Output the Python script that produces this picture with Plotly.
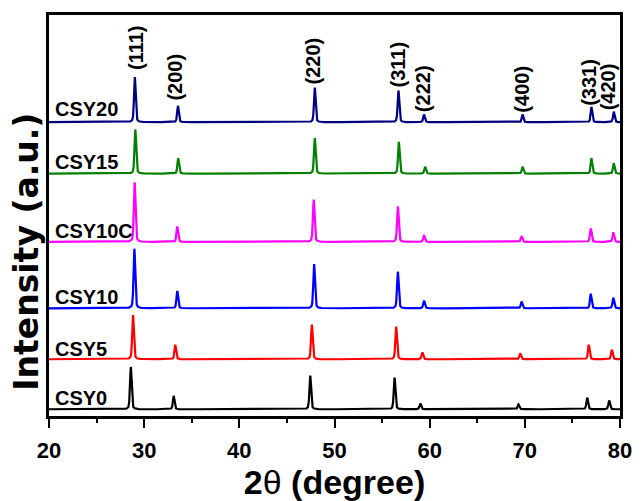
import numpy as np
import plotly.graph_objects as go

# ---------------- data ----------------
samples = ["CSY0", "CSY5", "CSY10", "CSY10C", "CSY15", "CSY20"]
colors = ["#000000", "#ff0000", "#0000ff", "#ff00ff", "#008000", "#000080"]
hkl = ["(111)", "(200)", "(220)", "(311)", "(222)", "(400)", "(331)", "(420)"]

# peak positions (2theta, degree) for each sample, in hkl order
pos_CSY0 = [28.60, 33.10, 47.45, 56.31, 59.02, 69.33, 76.55, 78.86]
pos_CSY5 = [28.83, 33.27, 47.62, 56.48, 59.24, 69.52, 76.72, 79.14]
pos_CSY10 = [28.97, 33.48, 47.86, 56.66, 59.41, 69.66, 76.93, 79.30]
pos_CSY10C = [29.00, 33.48, 47.82, 56.66, 59.41, 69.66, 76.93, 79.30]
pos_CSY15 = [29.07, 33.58, 47.93, 56.76, 59.52, 69.76, 77.00, 79.34]
pos_CSY20 = [29.02, 33.55, 47.93, 56.72, 59.41, 69.76, 77.00, 79.35]

# peak heights (a.u.) in hkl order
hgt_CSY0 = [44, 14, 35, 33, 6, 5, 12, 9]
hgt_CSY5 = [46, 15, 36, 34, 7, 6, 15, 10]
hgt_CSY10 = [62, 18, 46, 38, 8, 7, 15, 11]
hgt_CSY10C = [62, 16, 44, 37, 7, 6, 14, 10]
hgt_CSY15 = [46, 16, 37, 33, 7, 7, 16, 11]
hgt_CSY20 = [47, 17, 36, 33, 8, 8, 16, 11]

# vertical offsets (baselines) of the stacked patterns (a.u.)
offsets = [7, 59, 112, 181, 252, 305.5]

fwhm = 0.2  # peak width (degree)
x_ticks = [20, 30, 40, 50, 60, 70, 80]

positions = [pos_CSY0, pos_CSY5, pos_CSY10, pos_CSY10C, pos_CSY15, pos_CSY20]
heights = [hgt_CSY0, hgt_CSY5, hgt_CSY10, hgt_CSY10C, hgt_CSY15, hgt_CSY20]

# ---------------- build profiles ----------------
two_theta = np.arange(20.0, 80.0001, 0.01)


def profile(pos, hgt, base):
    y = np.full_like(two_theta, float(base))
    g = fwhm / 2.0
    sig = fwhm / 2.3548
    for p, h in zip(pos, hgt):
        lor = 1.0 / (1.0 + ((two_theta - p) / g) ** 2)
        gau = np.exp(-0.5 * ((two_theta - p) / sig) ** 2)
        y += h * (0.6 * gau + 0.4 * lor)
    return y


fig = go.Figure()
for name, col, pos, hgt, off in zip(samples, colors, positions, heights, offsets):
    fig.add_trace(go.Scatter(x=two_theta, y=profile(pos, hgt, off), mode="lines",
                             line=dict(color=col, width=2.2), name=name,
                             hoverinfo="skip", showlegend=False))

FONT = "Liberation Sans, Arial, sans-serif"

# sample labels
label_y = [19, 70, 124, 192, 264, 319]
for name, ly in zip(samples, label_y):
    fig.add_annotation(x=20.45, y=ly, xref="x", yref="y", text="<b>%s</b>" % name,
                       showarrow=False, xanchor="left", yanchor="middle",
                       font=dict(family=FONT, size=20, color="black"))

# hkl labels (rotated)
hkl_x = [29.07, 33.14, 47.78, 56.72, 59.31, 69.66, 76.80, 78.76]
hkl_y = [383, 352, 369, 366, 340, 340, 347, 342]
for t, hx, hy in zip(hkl, hkl_x, hkl_y):
    fig.add_annotation(x=hx, y=hy, xref="x", yref="y", text="<b>%s</b>" % t,
                       showarrow=False, textangle=-90, xanchor="center",
                       yanchor="middle",
                       font=dict(family=FONT, size=20, color="black"))

# y-axis title
fig.add_annotation(x=-0.040, y=0.41, xref="paper", yref="paper",
                   text="<b>Intensity (a.u.)</b>", showarrow=False, textangle=-90,
                   xanchor="center", yanchor="middle",
                   font=dict(family="DejaVu Sans, sans-serif", size=33, color="black"))

fig.update_layout(
    width=644, height=501,
    margin=dict(l=49, r=15, t=13, b=71),
    paper_bgcolor="white", plot_bgcolor="white",
    hovermode=False,
    xaxis=dict(range=[20, 80], tickvals=x_ticks,
               ticktext=["<b>%d</b>" % v for v in x_ticks],
               ticks="outside", ticklen=9, tickwidth=2, tickcolor="black",
               ticklabelstandoff=4,
               minor=dict(dtick=5, tick0=20, ticks="outside", ticklen=4, tickwidth=2,
                          tickcolor="black", showgrid=False),
               showline=True, linewidth=2.5, linecolor="black", mirror=True,
               showgrid=False, zeroline=False,
               tickfont=dict(family=FONT, size=22, color="black"),
               title=dict(text="<b>2</b>θ<b> (degree)</b>", standoff=2,
                          font=dict(family=FONT, size=34, color="black"))),
    yaxis=dict(range=[0, 417], showticklabels=False, ticks="",
               showline=True, linewidth=2.5, linecolor="black", mirror=True,
               showgrid=False, zeroline=False),
)

fig.write_html("out.html")
